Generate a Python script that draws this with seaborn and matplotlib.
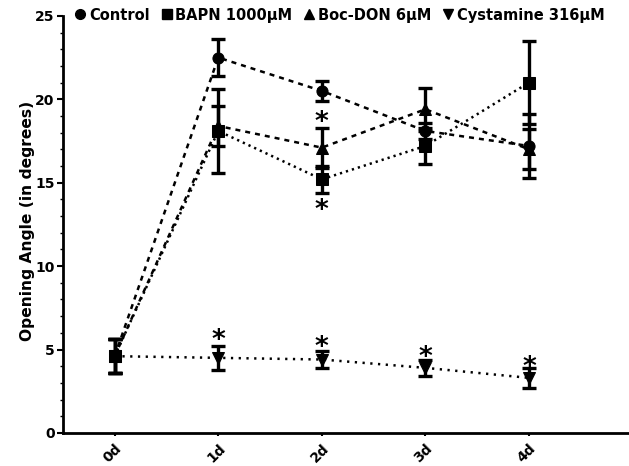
import numpy as np
import pandas as pd
import seaborn as sns
import matplotlib.pyplot as plt
from matplotlib.ticker import MultipleLocator
from matplotlib.lines import Line2D

# Time points and treatment groups
days = ["0d", "1d", "2d", "3d", "4d"]
groups = ["Control", "BAPN 1000µM", "Boc-DON 6µM", "Cystamine 316µM"]

# Mean opening angle (degrees) per group
control_mean = [4.6, 22.5, 20.5, 18.1, 17.2]
bapn_mean = [4.6, 18.1, 15.2, 17.2, 21.0]
bocdon_mean = [4.6, 18.4, 17.1, 19.4, 17.0]
cystamine_mean = [4.6, 4.5, 4.4, 3.9, 3.3]

# Error (SEM) per group
control_err = [1.0, 1.1, 0.6, 0.5, 1.9]
bapn_err = [1.0, 2.5, 0.8, 1.1, 2.5]
bocdon_err = [1.0, 1.2, 1.2, 1.3, 1.2]
cystamine_err = [1.0, 0.7, 0.5, 0.5, 0.6]

# Significance stars: (day index, y)
star_day = [1, 2, 2, 2, 3, 4]
star_y = [5.5, 18.6, 13.3, 5.1, 4.5, 3.9]

means = [control_mean, bapn_mean, bocdon_mean, cystamine_mean]
errs = [control_err, bapn_err, bocdon_err, cystamine_err]

rows = []
for g, m, e in zip(groups, means, errs):
    for i, d in enumerate(days):
        rows.append({"day": i, "angle": m[i], "err": e[i], "group": g})
df = pd.DataFrame(rows)

sns.set_theme(style="ticks")
plt.rcParams["font.family"] = ["DejaVu Sans"]
plt.rcParams["font.weight"] = "bold"
plt.rcParams["text.color"] = "black"
plt.rcParams["axes.labelcolor"] = "black"
plt.rcParams["xtick.color"] = "black"
plt.rcParams["ytick.color"] = "black"
plt.rcParams["axes.edgecolor"] = "black"

fig = plt.figure(figsize=(6.29, 4.66), dpi=100)
ax = fig.add_axes([0.100, 0.071, 0.899, 0.895])

marker_map = {groups[0]: "o", groups[1]: "s", groups[2]: "^", groups[3]: "v"}
dash_map = {groups[0]: (2.0, 2.0), groups[1]: (0.9, 1.6), groups[2]: (2.0, 2.0), groups[3]: (0.9, 2.2)}
palette = {g: "black" for g in groups}

sns.lineplot(data=df, x="day", y="angle", hue="group", style="group",
             markers=marker_map, dashes=dash_map, palette=palette,
             markersize=8, linewidth=1.8, markeredgecolor="black",
             errorbar=None, ax=ax, legend=False, zorder=3)

for g in groups:
    sub = df[df["group"] == g]
    ax.errorbar(sub["day"], sub["angle"], yerr=sub["err"], fmt="none",
                ecolor="black", elinewidth=2.4, capsize=5, capthick=2.4, zorder=2)

for d, y in zip(star_day, star_y):
    ax.text(d, y, "*", ha="center", va="center", fontsize=19,
            fontweight="bold", color="black")

# Legend across the top
handles = [Line2D([], [], marker=marker_map[g], color="black", linestyle="none",
                  markersize=7) for g in groups]
fig.legend(handles, groups, loc="upper left", bbox_to_anchor=(0.093, 1.012),
           ncol=4, frameon=False, handletextpad=0.0, columnspacing=0.55,
           handlelength=1.2, prop={"weight": "bold", "size": 10.5})

ax.set_xlim(-0.5, 4.96)
ax.set_ylim(0, 25)
ax.set_xticks(range(len(days)))
ax.set_xticklabels(days, rotation=45, ha="right", rotation_mode="anchor")
ax.set_yticks([0, 5, 10, 15, 20, 25])
ax.yaxis.set_minor_locator(MultipleLocator(1))
ax.tick_params(axis="y", which="minor", length=2, width=1)
ax.tick_params(axis="y", which="major", length=4, width=1.5, labelsize=10, pad=2)
ax.tick_params(axis="x", which="major", length=2, width=1.5, labelsize=10, pad=4)
for lab in ax.get_xticklabels() + ax.get_yticklabels():
    lab.set_fontweight("bold")
ax.set_xlabel("")
ax.set_ylabel("Opening Angle (in degrees)", fontsize=11.2, fontweight="bold")
ax.yaxis.set_label_coords(-0.049, 0.508)
sns.despine(ax=ax)
for s in ["left", "bottom"]:
    ax.spines[s].set_linewidth(2)

fig.savefig("out.png", dpi=100)
